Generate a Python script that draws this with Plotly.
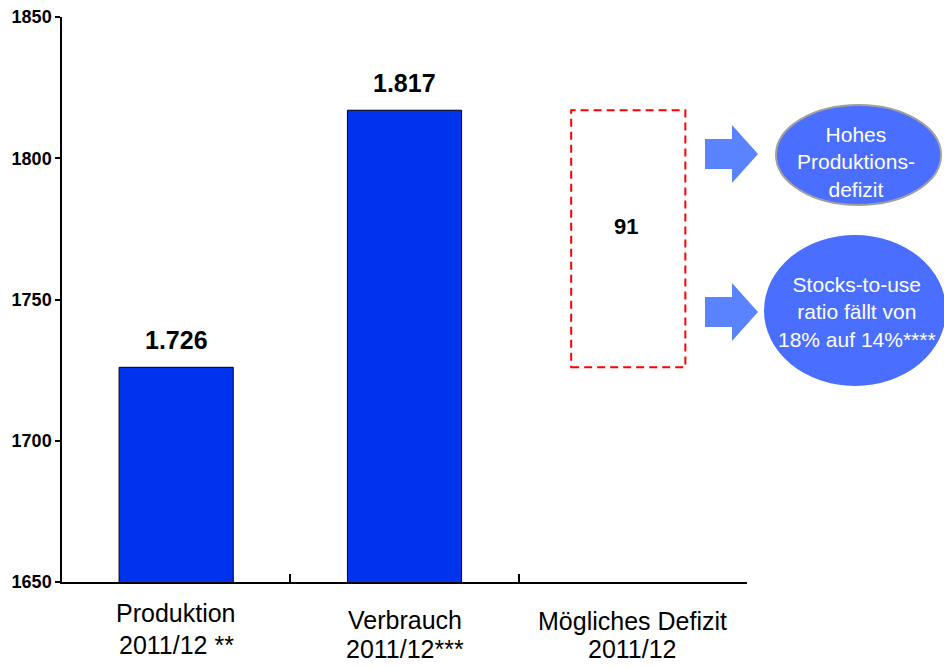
import plotly.graph_objects as go

# ---- data ----
categories = ["Produktion<br>2011/12 **", "Verbrauch<br>2011/12***", "Mögliches Defizit<br>2011/12"]
bar_values = [1726, 1817]
bar_labels = ["1.726", "1.817"]
deficit_label = "91"
y_ticks = [1650, 1700, 1750, 1800, 1850]
bubble_texts = ["Hohes<br>Produktions-<br>defizit",
                "Stocks-to-use<br>ratio fällt von<br>18% auf 14%****"]

W, H = 944, 668
ML, MR, MT, MB = 62, 197, 17, 86
PW, PH = W - ML - MR, H - MT - MB

def px(x):
    return (x - ML) / PW

def py(y):
    return 1 - (y - MT) / PH

FONT = "Arial, Liberation Sans, sans-serif"
BAR_COLOR = "#0033EE"
BUBBLE_COLOR = "#4A6EFF"
ARROW_COLOR = "#5A84FF"

fig = go.Figure()
fig.add_trace(go.Bar(
    x=list(range(len(bar_values))), y=bar_values, width=0.5,
    marker=dict(color=BAR_COLOR, line=dict(color="black", width=1)),
    hoverinfo="skip", showlegend=False,
))

annotations = []
# value labels above bars
for i, (v, t) in enumerate(zip(bar_values, bar_labels)):
    annotations.append(dict(x=i, y=v, xref="x", yref="y", text="<b>%s</b>" % t,
                            showarrow=False, xanchor="center", yanchor="bottom", yshift=11,
                            font=dict(size=25, color="black", family=FONT)))

# deficit dashed box
prod, cons = bar_values
shapes = [dict(type="rect", xref="x", yref="y", x0=1.73, x1=2.23, y0=prod, y1=cons,
               line=dict(color="#FF0000", width=2, dash="8px,5px"), fillcolor="rgba(0,0,0,0)")]
annotations.append(dict(x=1.97, y=(prod + cons) / 2, xref="x", yref="y",
                        text="<b>%s</b>" % deficit_label, showarrow=False, yshift=12,
                        xanchor="center", yanchor="middle",
                        font=dict(size=22, color="black", family=FONT)))

# category labels, one annotation per line (pixel centres of each line)
line_centres = [(613, 645), (620, 649), (621, 649)]
for i, c in enumerate(categories):
    for line, yc in zip(c.split("<br>"), line_centres[i]):
        annotations.append(dict(x=i, y=py(yc), xref="x", yref="paper", text=line,
                                showarrow=False, xanchor="center", yanchor="middle",
                                font=dict(size=25, color="black", family=FONT)))

# arrows (block arrows) in pixel space
def arrow_path(y_mid):
    x0, x1, x2 = 705, 732, 758
    hs, hh = 15, 29
    pts = [(x0, y_mid - hs), (x1, y_mid - hs), (x1, y_mid - hh), (x2, y_mid),
           (x1, y_mid + hh), (x1, y_mid + hs), (x0, y_mid + hs)]
    return "M " + " L ".join("%f,%f" % (px(a), py(b)) for a, b in pts) + " Z"

for ym in [154, 312]:
    shapes.append(dict(type="path", xref="paper", yref="paper", path=arrow_path(ym),
                       fillcolor=ARROW_COLOR, line=dict(width=0)))

# bubbles
bubbles = [((776, 105, 941, 205), "#A0A0A0", 2, 856, 162),
           ((764, 235, 946, 386), BUBBLE_COLOR, 0, 857, 312)]
for (bx0, by0, bx1, by1), lc, lw, tx, ty in bubbles:
    shapes.append(dict(type="circle", xref="paper", yref="paper",
                       x0=px(bx0), x1=px(bx1), y0=py(by1), y1=py(by0),
                       fillcolor=BUBBLE_COLOR, line=dict(color=lc, width=lw)))
for ((bx0, by0, bx1, by1), lc, lw, tx, ty), t in zip(bubbles, bubble_texts):
    annotations.append(dict(x=px(tx), y=py(ty), xref="paper", yref="paper", text=t,
                            showarrow=False, align="center", xanchor="center", yanchor="middle",
                            font=dict(size=21, color="white", family=FONT)))

fig.update_layout(
    width=W, height=H, margin=dict(l=ML, r=MR, t=MT, b=MB, pad=0, autoexpand=False),
    plot_bgcolor="white", paper_bgcolor="white",
    shapes=shapes, annotations=annotations, showlegend=False,
    xaxis=dict(range=[-0.5, 2.5], showline=True, linecolor="black", linewidth=1.5,
               tickvals=[0.5, 1.5, 2.5], ticks="inside", ticklen=8, tickwidth=1.5,
               tickcolor="black", showticklabels=False, showgrid=False, zeroline=False,
               fixedrange=True, automargin=False),
    yaxis=dict(range=[y_ticks[0], y_ticks[-1]], tickvals=y_ticks,
               ticktext=["<b>%d</b>" % t for t in y_ticks],
               showline=True, linecolor="black", linewidth=1.5, ticks="outside",
               ticklen=5, tickwidth=1.5, tickcolor="black", showgrid=False, zeroline=False,
               tickfont=dict(size=18, color="black", family=FONT), fixedrange=True,
               automargin=False),
)

fig.write_html("out.html", config={"displayModeBar": False},
               post_script="document.body.style.margin='0';document.body.style.padding='0';"
                           "document.documentElement.style.overflow='hidden';")
